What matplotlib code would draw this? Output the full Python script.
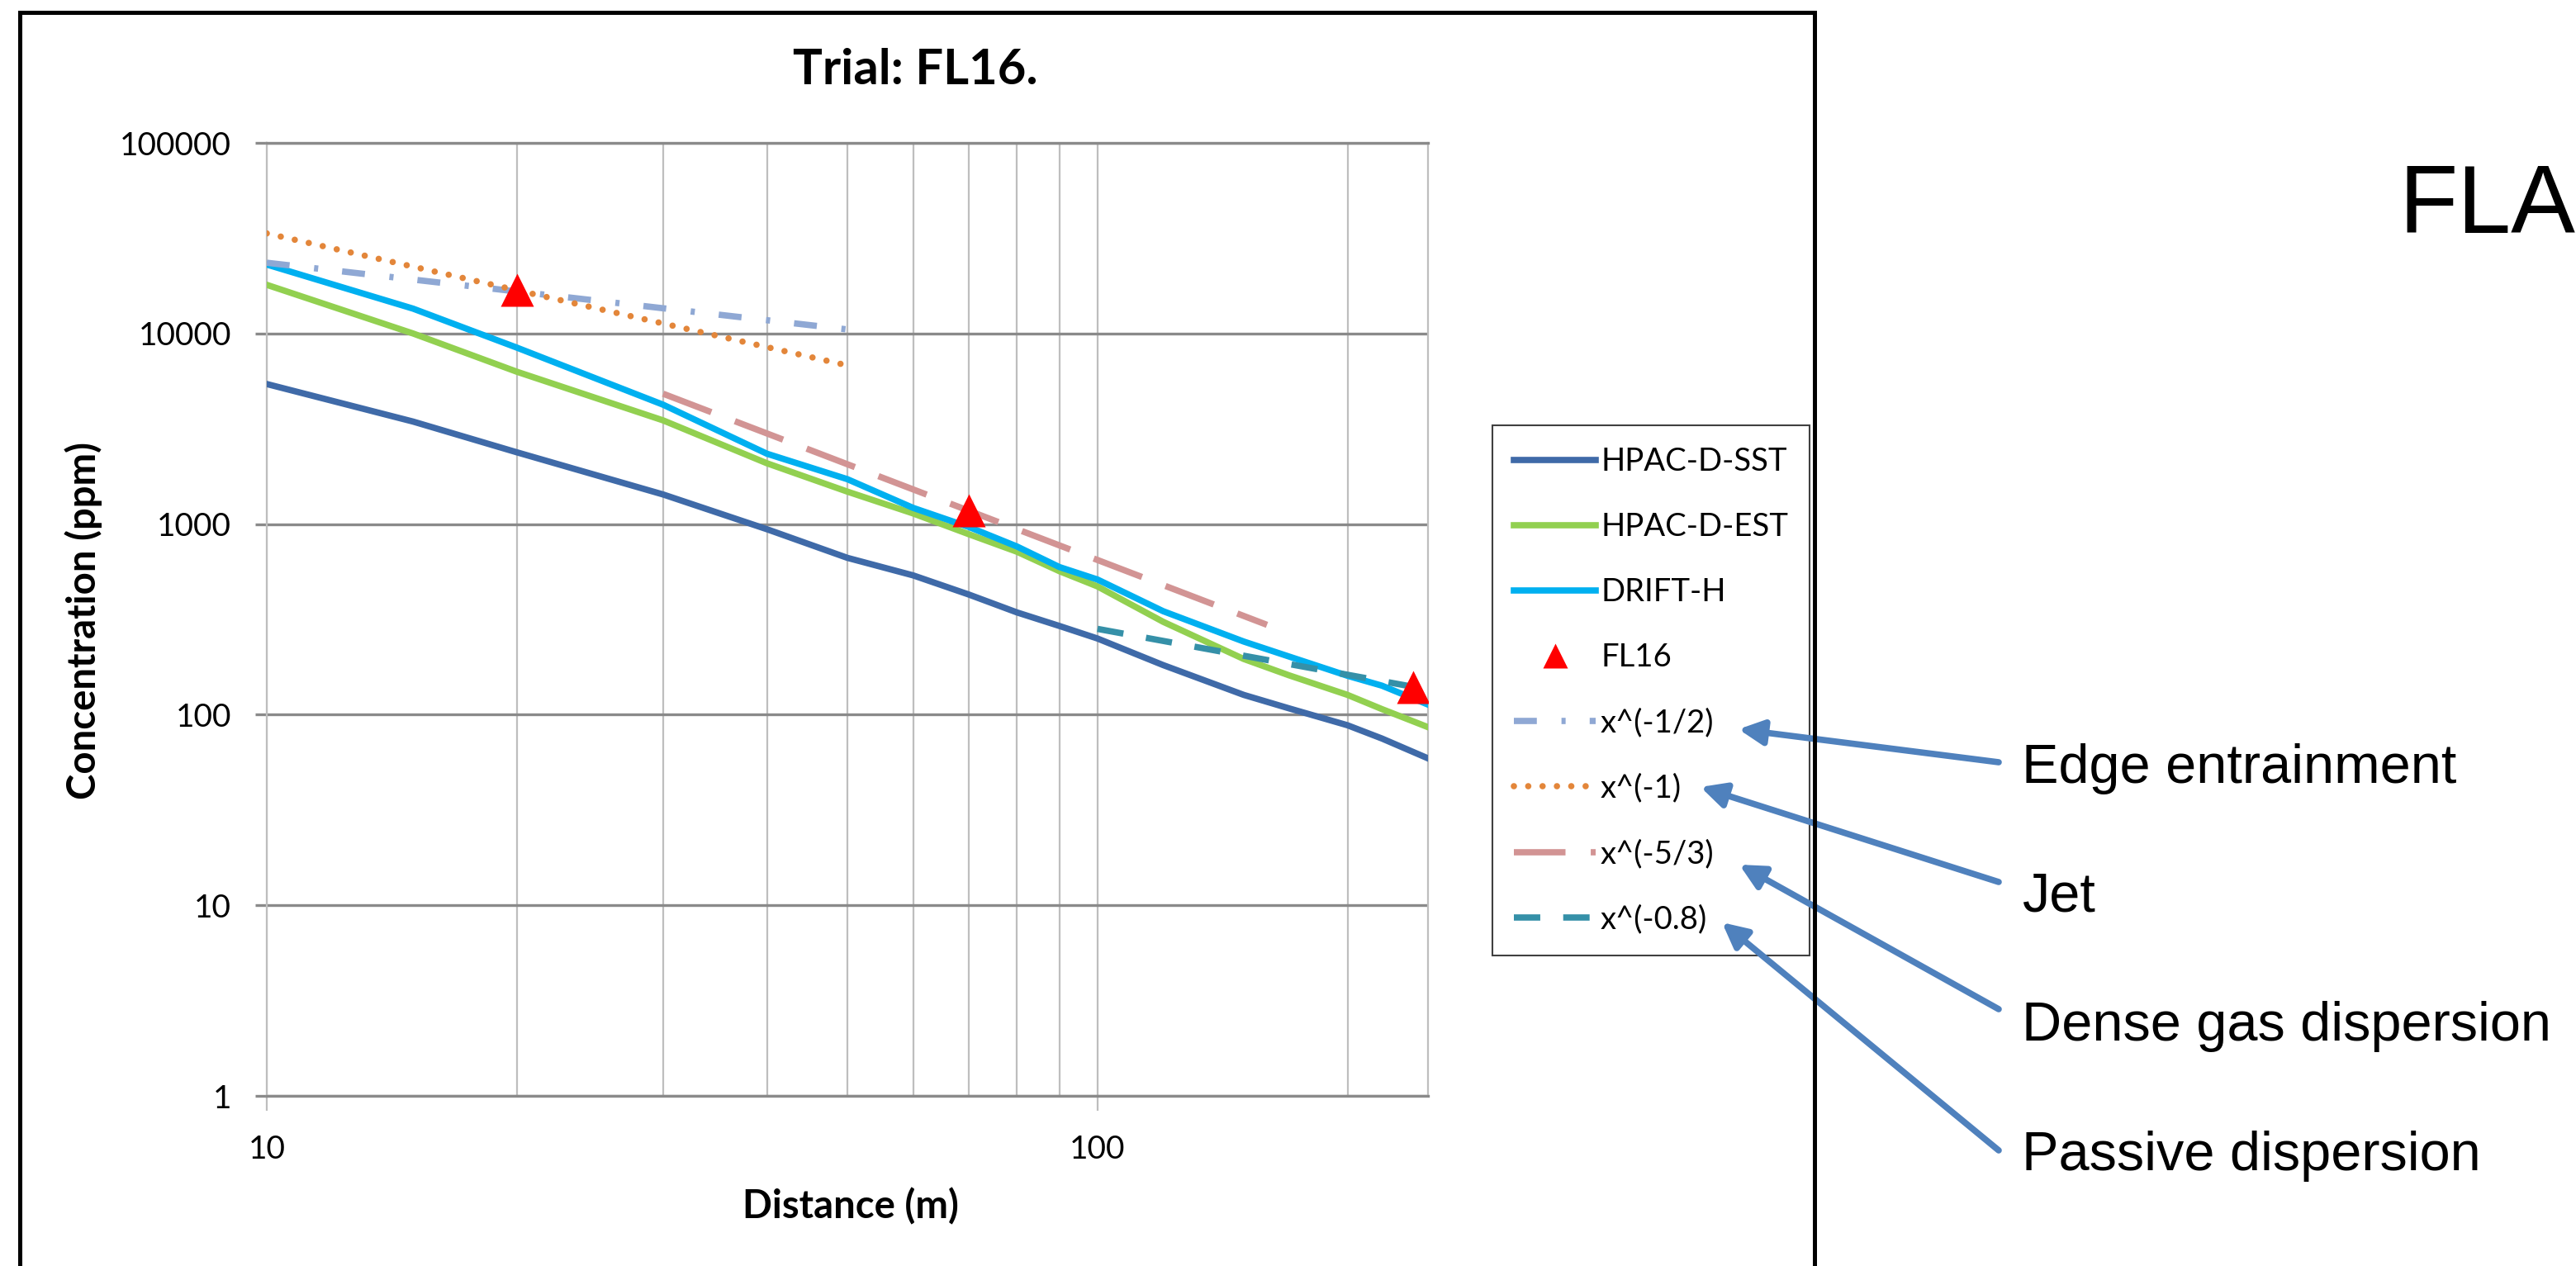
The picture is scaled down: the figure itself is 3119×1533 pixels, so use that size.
import matplotlib
matplotlib.use("Agg")
import matplotlib.pyplot as plt
from matplotlib.lines import Line2D
from matplotlib.patches import FancyArrowPatch
from matplotlib.ticker import FixedLocator, NullFormatter, NullLocator, FuncFormatter

plt.rcParams['font.family'] = ['Lato', 'DejaVu Sans']
plt.rcParams['lines.scale_dashes'] = False

# values
distance = [10, 15, 20, 30, 40, 50, 60, 70, 80, 90, 100, 120, 150, 170, 200, 220, 250]
hpac_sst = [5430, 3450, 2380, 1430, 940, 665, 538, 427, 344, 292, 251, 182, 127, 108, 88, 75, 59]
hpac_est = [18000, 10000, 6300, 3500, 2085, 1480, 1137, 885, 716, 566, 471, 307, 196, 161, 127, 107, 86]
drift_h = [23000, 13500, 8430, 4230, 2340, 1720, 1216, 966, 763, 595, 512, 349, 242, 202, 160, 142, 113]

fl16_x = [20, 70, 240]
fl16_y = [16900, 1180, 140]

half_x, half_y = [10, 50], [23500, 10500]
one_x, one_y = [10, 50], [33500, 6800]
five3_x, five3_y = [30, 160], [4830, 296]
p08_x, p08_y = [100, 240], [282, 140]

regimes = ["Edge entrainment", "Jet", "Dense gas dispersion", "Passive dispersion"]

W, H = 3119, 1533


def fx(px):
    return px / W


def fy(py):
    return 1 - py / H


fig = plt.figure(figsize=(W / 100, H / 100), dpi=100)
ax = fig.add_axes([fx(323), fy(1327), (1729 - 323) / W, (1327 - 173) / H])

lw = 5.5
ax.plot(distance, hpac_sst, color='#3F6AA8', lw=lw, label='HPAC-D-SST', zorder=3)
ax.plot(distance, hpac_est, color='#92D050', lw=lw, label='HPAC-D-EST', zorder=3)
ax.plot(distance, drift_h, color='#00B0F0', lw=lw, label='DRIFT-H', zorder=3)
ax.plot(fl16_x, fl16_y, ls='none', marker='^', ms=29, color='#FF0000', mec='none',
        label='FL16', zorder=6)
ax.plot(half_x, half_y, color='#8FA8D4', lw=lw, dashes=(20, 21.5, 3.6, 21),
        label='x^(-1/2)', zorder=4)
ax.plot(one_x, one_y, color='#E3863A', lw=lw, ls=(0, (0.01, 12.5)),
        dash_capstyle='round', label='x^(-1)', zorder=4)
ax.plot(five3_x, five3_y, color='#D29494', lw=lw, dashes=(45, 22),
        label='x^(-5/3)', zorder=4)
ax.plot(p08_x, p08_y, color='#3590A8', lw=lw, dashes=(23, 20),
        label='x^(-0.8)', zorder=4)

ax.set_xscale('log')
ax.set_yscale('log')
ax.set_xlim(10, 250)
ax.set_ylim(1, 1e5)
ax.xaxis.set_major_locator(FixedLocator([10, 100]))
ax.xaxis.set_minor_locator(FixedLocator([20, 30, 40, 50, 60, 70, 80, 90, 200]))
ax.xaxis.set_minor_formatter(NullFormatter())
ax.yaxis.set_major_locator(FixedLocator([1, 10, 100, 1000, 10000, 100000]))
ax.yaxis.set_minor_locator(NullLocator())
fmt = FuncFormatter(lambda v, p: f"{v:.0f}")
ax.xaxis.set_major_formatter(fmt)
ax.yaxis.set_major_formatter(fmt)

ax.grid(True, which='major', axis='y', color='#8A8A8A', lw=2.4)
ax.grid(True, which='both', axis='x', color='#BEBEBE', lw=1.6)
ax.set_axisbelow(True)
ax.tick_params(axis='y', which='major', length=10, width=2.4, color='#8A8A8A',
               pad=21, labelsize=28)
ax.tick_params(axis='x', which='major', length=13, width=1.6, color='#BEBEBE',
               pad=21, labelsize=28)
ax.tick_params(axis='x', which='minor', length=0)
for side in ['left', 'right']:
    ax.spines[side].set_color('#BEBEBE')
    ax.spines[side].set_linewidth(1.6)
for side in ['top', 'bottom']:
    ax.spines[side].set_color('#8A8A8A')
    ax.spines[side].set_linewidth(2.4)

leg = ax.legend(loc='upper left', bbox_to_anchor=(fx(1807), fy(515)),
                bbox_transform=fig.transFigure, borderaxespad=0, fontsize=27.5,
                handlelength=2.6, handletextpad=0.15, borderpad=0.68,
                labelspacing=1.13, markerscale=0.75, fancybox=False,
                edgecolor='#404040', framealpha=1)
leg.get_frame().set_linewidth(1.5)

fig.text(fx(1108), fy(102), 'Trial: FL16.', fontsize=43, fontweight='bold',
         ha='center', va='baseline')
fig.text(fx(1030), fy(1475), 'Distance (m)', fontsize=34, fontweight='bold',
         ha='center', va='baseline')
fig.text(fx(101), fy(752), 'Concentration (ppm)', fontsize=34, fontweight='bold',
         rotation=90, ha='center', va='center')

# frame around the chart
fig.add_artist(Line2D([fx(24), fx(24), fx(2197), fx(2197)],
                      [fy(1560), fy(15), fy(15), fy(1560)],
                      transform=fig.transFigure, color='black', lw=3.6,
                      solid_joinstyle='miter'))

fig.text(fx(2904), fy(282), 'FLA', fontsize=84, family=['Liberation Sans'],
         ha='left', va='baseline')

baselines = [948, 1104, 1260, 1417]
tails = [(2420, 923), (2420, 1068), (2420, 1222), (2420, 1393)]
tips = [(2105, 883), (2059, 953), (2106, 1047), (2085, 1117)]
for name, base, tail, tip in zip(regimes, baselines, tails, tips):
    fig.text(fx(2448), fy(base), name, fontsize=48, family=['Liberation Sans'],
             ha='left', va='baseline')
    fig.add_artist(FancyArrowPatch((fx(tail[0]), fy(tail[1])), (fx(tip[0]), fy(tip[1])),
                                   transform=fig.transFigure,
                                   arrowstyle='-|>,head_length=18,head_width=9',
                                   mutation_scale=1, lw=5.5, color='#4F81BD',
                                   shrinkA=0, shrinkB=0))

fig.savefig('out.png', dpi=100)
